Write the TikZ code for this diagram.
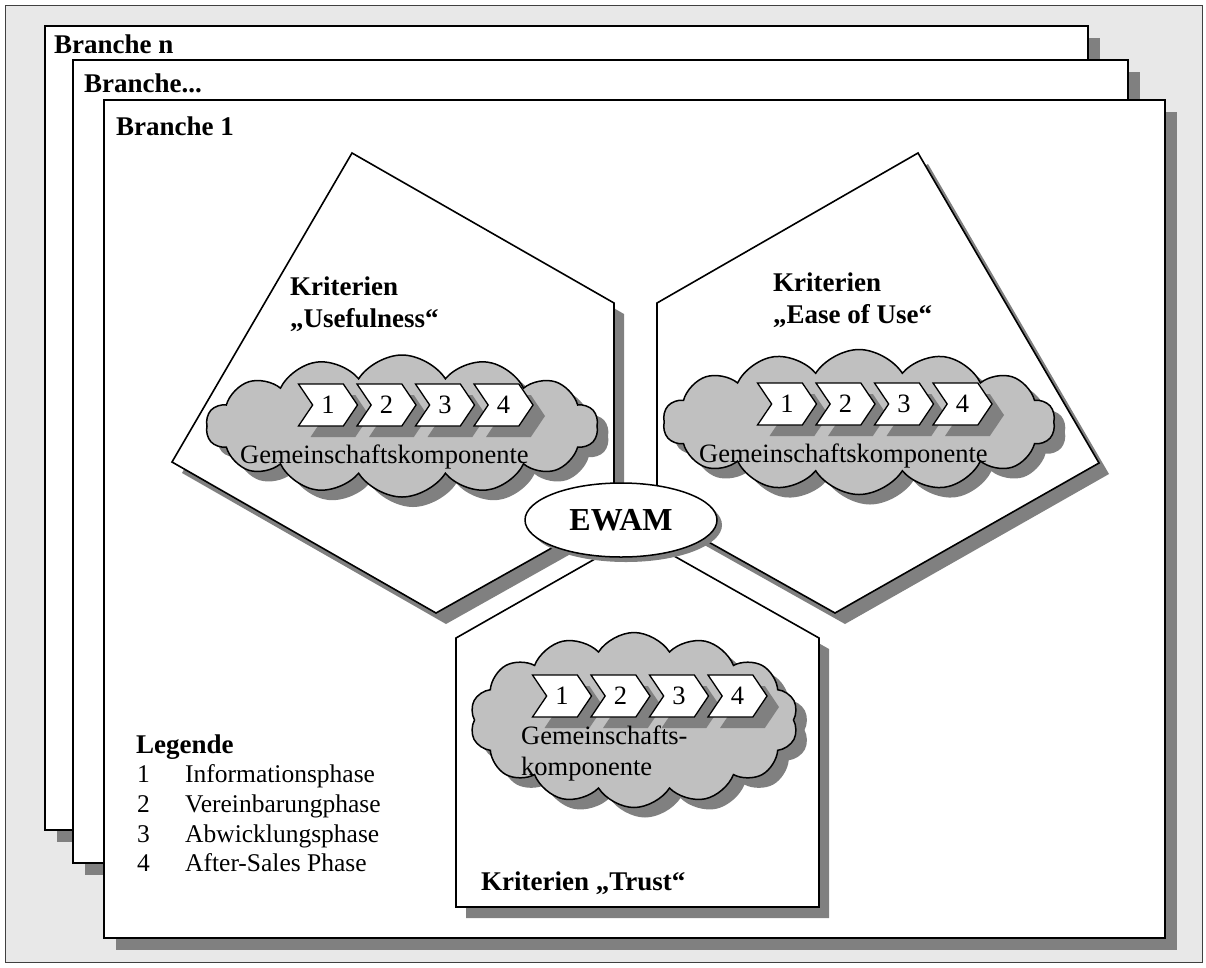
\documentclass[tikz,border=0pt]{standalone}
\usepackage{fontspec}
\setmainfont{Liberation Serif}
\usetikzlibrary{positioning, shapes.symbols, shapes.geometric}
\definecolor{bggray}{HTML}{E8E8E8}
\definecolor{cloudgray}{HTML}{C0C0C0}
\definecolor{shadowgray}{HTML}{808080}

\begin{document}
\begin{tikzpicture}[x=1pt, y=-1pt,
  txt/.style={font=\fontsize{26.5}{31}\selectfont, inner sep=0pt, anchor=base west},
  legtxt/.style={txt, font=\fontsize{25.5}{30}\selectfont},
  bold/.style={txt, font=\fontsize{27}{32}\selectfont\bfseries},
  sheet/.style={draw=black, line width=1.6pt, fill=white},
  shade/.style={fill=shadowgray, draw=none},
  wolke/.style={cloud, cloud puffs=14, cloud puff arc=115, cloud ignores aspect,
    draw=black, line width=1.5pt, fill=cloudgray, inner sep=0pt},
  wolkeshade/.style={wolke, draw=none, fill=shadowgray},
  phase/.style={signal, signal from=west, signal to=east, signal pointer angle=112,
    draw=black, line width=1.3pt, fill=white, minimum width=59pt, minimum height=42pt,
    inner sep=0pt, font=\fontsize{26.5}{31}\selectfont},
  phaseshade/.style={phase, draw=none, fill=shadowgray}
]
\useasboundingbox (0,0) rectangle (1206,967);
\draw[fill=bggray, draw=black!75, line width=1pt] (5,5) rectangle (1202,962);

% Branchen
\fill[shade] (57,38) rectangle (1100,842);
\draw[sheet] (45,26) rectangle (1088,830);
\node[bold] (bn) at (54,53) {Branche n};
\fill[shade] (85,72) rectangle (1140,875);
\draw[sheet] (73,60) rectangle (1128,863);
\node[bold] (bx) at (84,92) {Branche...};
\fill[shade] (116,112) rectangle (1177,950);
\draw[sheet] (104,100) rectangle (1165,938);
\node[bold] (b1) at (116,135) {Branche 1};

% Kriterienfelder
\fill[shade, shift={(10,11)}] (352,153) -- (614,303) -- (614,513) -- (436,613) -- (172,462) -- cycle;
\draw[sheet] (352,153) -- (614,303) -- (614,513) -- (436,613) -- (172,462) -- cycle;
\fill[shade, shift={(10,11)}] (918,153) -- (657,303) -- (657,513) -- (835,613) -- (1099,463) -- cycle;
\draw[sheet] (918,153) -- (657,303) -- (657,513) -- (835,613) -- (1099,463) -- cycle;
\fill[shade, shift={(10,11)}] (637,535) -- (819,638) -- (819,907) -- (456,907) -- (456,638) -- cycle;
\draw[sheet] (637,535) -- (819,638) -- (819,907) -- (456,907) -- (456,638) -- cycle;

\node[bold, align=left] (kuse) at (290,327) {Kriterien\\„Usefulness“};
\node[bold, align=left] (kease) at (773,323) {Kriterien\\„Ease of Use“};
\node[bold] (ktrust) at (481,890) {Kriterien „Trust“};

% Wolken
\node[wolkeshade, minimum width=392pt, minimum height=142pt] at (413,436) {};
\node[wolke, minimum width=392pt, minimum height=142pt] (wuse) at (402,426) {};
\node[wolkeshade, minimum width=392pt, minimum height=145pt] at (870,432) {};
\node[wolke, minimum width=392pt, minimum height=145pt] (wease) at (859,422) {};
\node[wolkeshade, minimum width=328pt, minimum height=175pt] at (645,730) {};
\node[wolke, minimum width=328pt, minimum height=175pt] (wtrust) at (634,720) {};

\foreach \n in {1,2,3,4} {
  \node[phaseshade] at (281.5+58.5*\n,416) {};
  \node[phase] (u\n) at (269.5+58.5*\n,405) {\n};
  \node[phaseshade] at (740.5+58.5*\n,415) {};
  \node[phase] (e\n) at (728.5+58.5*\n,404) {\n};
  \node[phaseshade] at (515.5+58.5*\n,707) {};
  \node[phase] (t\n) at (503.5+58.5*\n,696) {\n};
}

\node[txt] (guse) at (240,463) {Gemeinschaftskomponente};
\node[txt] (gease) at (699,462) {Gemeinschaftskomponente};
\node[txt, align=left] (gtrust) at (521,775) {Gemeinschafts-\\komponente};

% EWAM
\node[ellipse, shade, minimum width=192pt, minimum height=74pt] at (626,525) {};
\node[ellipse, draw=black, line width=1.5pt, fill=white, minimum width=192pt,
  minimum height=74pt, font=\fontsize{32}{36}\selectfont\bfseries] (ewam) at (621,520) {EWAM};

% Legende
\node[bold] (leg) at (136,753) {Legende};
\foreach \n/\p [count=\i] in {1/Informationsphase, 2/Vereinbarungphase,
    3/Abwicklungsphase, 4/After-Sales Phase} {
  \node[legtxt] (ln\n) at (137,753+29.7*\i) {\n};
  \node[legtxt] (lp\n) at (185,753+29.7*\i) {\p};
}
\end{tikzpicture}
\end{document}
